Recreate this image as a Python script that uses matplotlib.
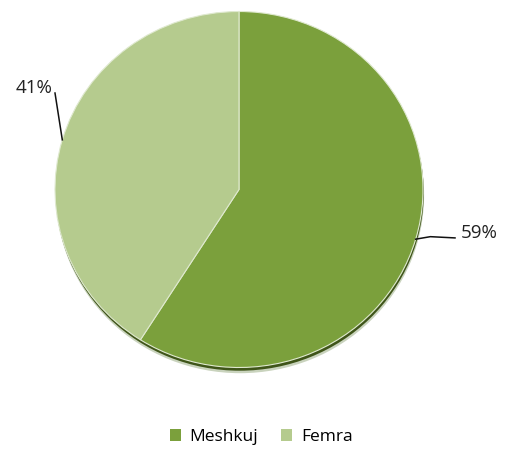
import numpy as np
import matplotlib.pyplot as plt
from matplotlib.patches import Patch

labels = ["Meshkuj", "Femra"]
shares = [59, 41]
colors = ["#7ba03c", "#b5cb8e"]

plt.rcParams['font.family'] = ['Open Sans', 'DejaVu Sans']

fig = plt.figure(figsize=(5.06, 4.53), dpi=100)
# pie area: center ~ (239, 189.5) px, radii ~184 x 178 px (slightly squashed)
cx, cy, rx, ry = 239, 189.5, 184, 178
ax = fig.add_axes([(cx - rx) / 506, (453 - cy - ry) / 453, 2 * rx / 506, 2 * ry / 453])

# soft shadow under the pie
ax.pie([1], radius=1.0, colors=["#c9d3bd"], center=(0.006, -0.032),
       wedgeprops=dict(linewidth=0))
ax.pie([1], radius=1.0, colors=["#3f5519"], center=(0.004, -0.018),
       wedgeprops=dict(linewidth=0))
wedges, _ = ax.pie(shares, colors=colors, startangle=90, counterclock=False,
                   radius=1.0, wedgeprops=dict(edgecolor="#dfe9cf", linewidth=0.8))
ax.set_xlim(-1, 1)
ax.set_ylim(-1, 1)
ax.set_aspect('auto')
ax.axis('off')

# percent labels with leader lines from the middle of each wedge
def edge_point(w):
    a = np.deg2rad((w.theta1 + w.theta2) / 2)
    return np.cos(a), np.sin(a)

# Femra (left)
x0, y0 = edge_point(wedges[1])
ax.plot([x0, -1.0], [y0, 0.542], color="#111111", lw=1.1, clip_on=False)
ax.text(-1.016, 0.54, f"{shares[1]}%", ha='right', va='baseline',
        fontsize=13.5, color="#222222")

# Meshkuj (right)
x0, y0 = edge_point(wedges[0])
ax.plot([x0, 1.04, 1.174], [y0, -0.265, -0.272], color="#111111", lw=1.1,
        clip_on=False)
ax.text(1.205, -0.244, f"{shares[0]}%", ha='left', va='center',
        fontsize=13.5, color="#222222")

handles = [Patch(facecolor=c, edgecolor='none') for c in colors]
fig.legend(handles, labels, loc='center', bbox_to_anchor=(0.516, 1 - 437 / 453),
           ncol=2, frameon=False, fontsize=12.5, handlelength=0.65, handleheight=0.65,
           handletextpad=0.5, columnspacing=1.3)

fig.savefig("out.png", dpi=100)
